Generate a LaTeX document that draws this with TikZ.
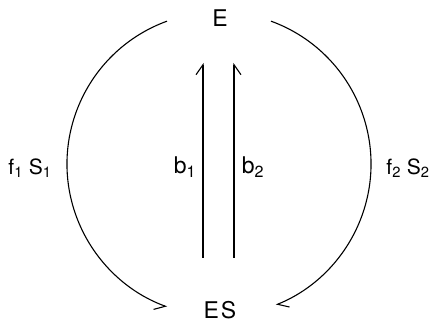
\documentclass[tikz,border=0pt]{standalone}
\usepackage{fontspec}
\setmainfont{TeX Gyre Heros}
\usetikzlibrary{arrows.meta,calc}
\tikzset{
  lbl/.style={inner sep=0pt, font=\fontsize{21}{24}\selectfont},
  blbl/.style={inner sep=0pt, font=\fontsize{23}{26}\selectfont},
  state/.style={inner sep=0pt, font=\fontsize{23}{26}\selectfont},
  conn/.style={line width=1.1pt},
  hl/.style={-{Straight Barb[harpoon,length=10pt,width=14pt]}},
  hr/.style={-{Straight Barb[harpoon,swap,length=10pt,width=14pt]}},
}
\begin{document}
\begin{tikzpicture}[x=1pt,y=1pt]
\useasboundingbox (0,0) rectangle (439,323);
\node[state] (E) at (220,305) {E};
\node[state] (ES) at (220,13) {E\kern2pt S};
\coordinate (C) at (219,159);
\coordinate (la) at ($(C)+(110:152)$);
\coordinate (ra) at ($(C)+(70:152)$);
\coordinate (b1s) at (203,65);
\coordinate (b1e) at (203,260);
\coordinate (b2s) at (234,65);
\coordinate (b2e) at (234,260);
\draw[conn,hr] (la) arc[start angle=110,end angle=250,radius=152];
\draw[conn,hl] (ra) arc[start angle=70,end angle=-68,radius=152];
\draw[conn,hl] (b1s) -- (b1e);
\draw[conn,hr] (b2s) -- (b2e);
\node[lbl] (f1) at (30,155) {f\textsubscript{1} S\textsubscript{1}};
\node[lbl] (f2) at (408,155) {f\textsubscript{2} S\textsubscript{2}};
\node[blbl] (b1) at (185,156) {b\textsubscript{1}};
\node[blbl] (b2) at (253,156) {b\textsubscript{2}};
\end{tikzpicture}
\end{document}
